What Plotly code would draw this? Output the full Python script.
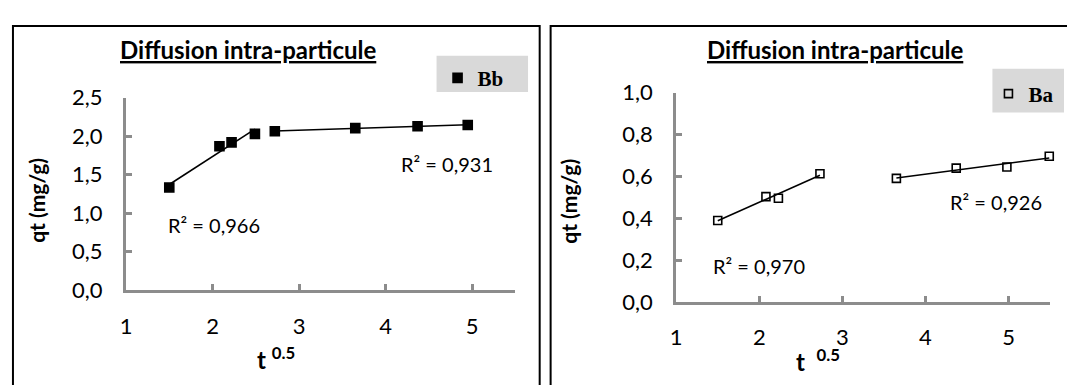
import numpy as np
import plotly.graph_objects as go

# ---------------- data ----------------
t_bb = [1.50, 2.08, 2.22, 2.49, 2.72, 3.65, 4.37, 4.95]
qt_bb = [1.334, 1.87, 1.92, 2.03, 2.065, 2.105, 2.13, 2.145]
t_ba = [1.50, 2.08, 2.23, 2.73, 3.65, 4.37, 4.98, 5.49]
qt_ba = [0.39, 0.504, 0.496, 0.613, 0.591, 0.640, 0.645, 0.697]
split_bb = 4
split_ba = 4
r2_bb = ["R² = 0,966", "R² = 0,931"]
r2_ba = ["R² = 0,970", "R² = 0,926"]
x_ticks = [1, 2, 3, 4, 5]
title_txt = "Diffusion intra-particule"

W, H = 1067, 385
def px(x):
    return x / W
def py(y):
    return 1 - y / H

SANS = "Lato"
SERIF = "Liberation Serif"

fig = go.Figure()

def add_series(xs, ys, split, name, xa, ya, symbol, legend):
    fig.add_trace(go.Scatter(
        x=xs, y=ys, mode="markers", name=name, xaxis=xa, yaxis=ya,
        marker=dict(symbol=symbol, size=9 if symbol == "square" else 8,
                    color="black", line=dict(color="black", width=1.6)),
        cliponaxis=False, legend=legend, showlegend=True))
    for seg in (slice(0, split), slice(split, None)):
        sx = np.array(xs[seg]); sy = np.array(ys[seg])
        a, b = np.polyfit(sx, sy, 1)
        lx = np.array([sx.min(), sx.max()])
        fig.add_trace(go.Scatter(
            x=lx, y=a * lx + b, mode="lines", xaxis=xa, yaxis=ya,
            line=dict(color="black", width=1.6), showlegend=False,
            hoverinfo="skip", cliponaxis=False))

add_series(t_bb, qt_bb, split_bb, "Bb", "x", "y", "square", "legend")
add_series(t_ba, qt_ba, split_ba, "Ba", "x2", "y2", "square-open", "legend2")

axis_common = dict(
    showline=True, linecolor="#8c8c8c", linewidth=3,
    ticks="inside", tickcolor="#8c8c8c", tickwidth=3, ticklen=6,
    showgrid=False, zeroline=False,
    tickfont=dict(family=SANS, size=22, color="black"),
)

fig.update_layout(
    width=W, height=H, margin=dict(l=0, r=0, t=0, b=0),
    paper_bgcolor="white", plot_bgcolor="white",
    separators=", ",
    xaxis=dict(domain=[px(120.7), px(512.2)], range=[1, 5.5],
               tickvals=x_ticks, anchor="y", ticklabelstandoff=14, **axis_common),
    yaxis=dict(domain=[py(297), py(90)], range=[0, 2.5], dtick=0.5,
               tickformat=".1f", anchor="x", ticklabelstandoff=16, **axis_common),
    xaxis2=dict(domain=[px(674), px(1050)], range=[1, 5.5],
                tickvals=x_ticks, anchor="y2", ticklabelstandoff=14, **axis_common),
    yaxis2=dict(domain=[py(309.8), py(84.7)], range=[0, 1.0], dtick=0.2,
                tickformat=".1f", anchor="x2", ticklabelstandoff=16, **axis_common),
    legend=dict(x=px(434), y=py(47), xanchor="left", yanchor="top",
                bgcolor="rgba(0,0,0,0)", borderwidth=0, itemwidth=30,
                font=dict(family=SERIF, size=21, color="black", weight="bold")),
    legend2=dict(x=px(988), y=py(64), xanchor="left", yanchor="top",
                 bgcolor="rgba(0,0,0,0)", borderwidth=0, itemwidth=30,
                 font=dict(family=SERIF, size=21, color="black", weight="bold")),
    showlegend=True,
)

shapes = []
# panel borders
shapes.append(dict(type="rect", xref="paper", yref="paper",
                   x0=px(7), x1=px(536.7), y0=py(400), y1=py(13),
                   line=dict(color="black", width=2), layer="below"))
shapes.append(dict(type="rect", xref="paper", yref="paper",
                   x0=px(547.7), x1=px(1090), y0=py(400), y1=py(13),
                   line=dict(color="black", width=2), layer="below"))
# legend backgrounds
shapes.append(dict(type="rect", xref="paper", yref="paper",
                   x0=px(433), x1=px(525), y0=py(84), y1=py(45),
                   fillcolor="#d9d9d9", line=dict(width=0), layer="below"))
shapes.append(dict(type="rect", xref="paper", yref="paper",
                   x0=px(992), x1=px(1064), y0=py(106), y1=py(59),
                   fillcolor="#d9d9d9", line=dict(width=0), layer="below"))
fig.update_layout(shapes=shapes)

def ann(text, x, y, size, bold=False, xanchor="center", textangle=0):
    fig.add_annotation(
        text=text, x=px(x), y=py(y), xref="paper", yref="paper",
        xanchor=xanchor, yanchor="middle", showarrow=False, textangle=textangle,
        font=dict(family=SANS, size=size, color="black",
                  weight="bold" if bold else "normal"))

# titles
ann("<u>" + title_txt + "</u>", 243, 38, 24, bold=True)
ann("<u>" + title_txt + "</u>", 834, 38, 24, bold=True)
# axis titles
ann("qt (mg/g)", 31, 200, 21, bold=True, textangle=-90)
ann("qt (mg/g)", 566, 201, 21, bold=True, textangle=-90)
ann("t <sup>0.5</sup>", 272, 370, 24, bold=True)
ann("t&nbsp;&nbsp;<sup>0.5</sup>", 817, 372, 24, bold=True)
# R² labels
ann(r2_bb[0], 209.5, 227, 20)
ann(r2_bb[1], 443, 161, 20)
ann(r2_ba[0], 757, 271, 20)
ann(r2_ba[1], 996, 202, 20)

fig.write_html("out.html", config={"displayModeBar": False},
               post_script="document.body.style.margin='0px';")
